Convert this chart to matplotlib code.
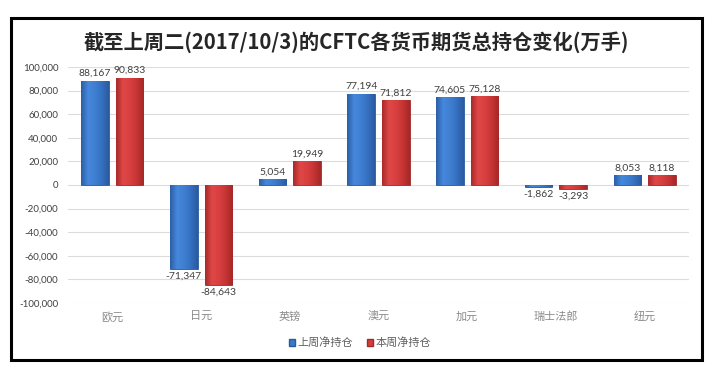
import matplotlib
matplotlib.use("Agg")
import matplotlib.pyplot as plt
import numpy as np
from matplotlib.patches import Rectangle
from matplotlib.colors import LinearSegmentedColormap

plt.rcParams['font.family'] = ['Noto Sans CJK SC', 'DejaVu Sans']

title = "截至上周二(2017/10/3)的CFTC各货币期货总持仓变化(万手)"
categories = ["欧元", "日元", "英镑", "澳元", "加元", "瑞士法郎", "纽元"]
last_week = [88167, -71347, 5054, 77194, 74605, -1862, 8053]
this_week = [90833, -84643, 19949, 71812, 75128, -3293, 8118]
series_names = ["上周净持仓", "本周净持仓"]
yticks = list(range(-100000, 100001, 20000))

fig = plt.figure(figsize=(7.2, 3.78), dpi=100)
fig.patch.set_facecolor("white")

# outer frame
fig.patches.append(Rectangle((11/720, 18/378), (702-11)/720, (360-18)/378,
                             transform=fig.transFigure, fill=False,
                             edgecolor="black", linewidth=2.2, zorder=10))

ax = fig.add_axes([68/720, (378-303)/378, (689-68)/720, (303-67)/378])

x = np.arange(len(categories))
w = 0.31
off = 0.195
blue_cmap = LinearSegmentedColormap.from_list("b", ["#2c5ea6", "#4688dc", "#3f7fd2", "#3570c0", "#2a5aa0"])
red_cmap = LinearSegmentedColormap.from_list("r", ["#a82a2a", "#e04848", "#d84040", "#c63434", "#a42828"])

b1 = ax.bar(x - off, last_week, w, color="#3a78cc", edgecolor="#2a5a9c", linewidth=0.6, zorder=3)
b2 = ax.bar(x + off, this_week, w, color="#d43c3c", edgecolor="#a02a2a", linewidth=0.6, zorder=3)

grad = np.linspace(0, 1, 64).reshape(1, -1)
for bars, cmap in ((b1, blue_cmap), (b2, red_cmap)):
    for p in bars:
        x0, y0 = p.get_x(), p.get_y()
        ww, hh = p.get_width(), p.get_height()
        ylo, yhi = min(y0, y0 + hh), max(y0, y0 + hh)
        im = ax.imshow(grad, cmap=cmap, aspect="auto", extent=(x0, x0 + ww, ylo, yhi),
                       zorder=3.5, interpolation="bicubic")
        im.set_clip_path(p)

def fmt(v):
    return f"{v:,}"

for bars, vals in ((b1, last_week), (b2, this_week)):
    for p, v in zip(bars, vals):
        cx = p.get_x() + p.get_width() / 2
        if v >= 0:
            ax.annotate(fmt(v), (cx, v), xytext=(0, 2), textcoords="offset points",
                        ha="center", va="bottom", fontsize=7.5, color="#404040",
                        family=["Lato", "DejaVu Sans"])
        else:
            ax.annotate(fmt(v), (cx, v), xytext=(0, -2), textcoords="offset points",
                        ha="center", va="top", fontsize=7.5, color="#404040",
                        family=["Lato", "DejaVu Sans"])

ax.set_xlim(-0.5, len(categories) - 0.5)
ax.set_ylim(-100000, 100000)
ax.set_yticks(yticks)
ax.set_yticklabels([fmt(t) for t in yticks], family=["Lato", "DejaVu Sans"], fontsize=7, color="#404040")
ax.set_xticks(x)
ax.set_xticklabels(categories, fontsize=8, color="#8a8a8a")
ax.tick_params(axis="both", length=0)
ax.tick_params(axis="y", pad=7)
ax.tick_params(axis="x", pad=6)
ax.grid(axis="y", color="#dcdcdc", linewidth=0.8, zorder=0)
ax.set_axisbelow(True)
for s in ax.spines.values():
    s.set_visible(False)

fig.text(356/720, (378-42)/378, title, ha="center", va="center", fontsize=14.6,
         fontweight="bold", color="#262626")

handles = [Rectangle((0, 0), 1, 1, facecolor="#3a78cc", edgecolor="#2a5a9c"),
           Rectangle((0, 0), 1, 1, facecolor="#d43c3c", edgecolor="#a02a2a")]
fig.legend(handles, series_names, loc="center", bbox_to_anchor=(360/720, (378-343)/378),
           ncol=2, frameon=False, fontsize=8, handlelength=0.6, handleheight=0.6,
           handletextpad=0.2, columnspacing=1.2, labelcolor="#606060")

fig.savefig("out.png", dpi=100, facecolor="white")
